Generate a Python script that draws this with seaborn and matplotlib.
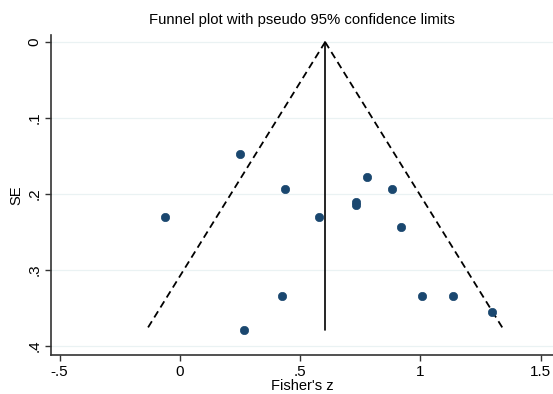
import numpy as np
import pandas as pd
import matplotlib
matplotlib.use("Agg")
import matplotlib.pyplot as plt
import seaborn as sns

# Data
fisher_z = [0.25, 0.4375, -0.06, 0.579, 0.778, 0.882, 0.732, 0.732, 0.921,
            1.007, 1.136, 1.299, 0.267, 0.426]
se = [0.147, 0.193, 0.230, 0.230, 0.178, 0.193, 0.210, 0.214, 0.244,
      0.334, 0.334, 0.355, 0.379, 0.334]
pooled = 0.604
max_se = 0.379
x_ticks = [-0.5, 0, 0.5, 1, 1.5]
x_ticklabels = ["-.5", "0", ".5", "1", "1.5"]
y_ticks = [0, 0.1, 0.2, 0.3, 0.4]
y_ticklabels = ["0", ".1", ".2", ".3", ".4"]

sns.set_theme(style="white", rc={"text.color": "black",
                                 "axes.labelcolor": "black",
                                 "xtick.color": "black",
                                 "ytick.color": "black"})
plt.rcParams["font.family"] = ["Liberation Sans", "DejaVu Sans"]

df = pd.DataFrame({"z": fisher_z, "se": se})
funnel_se = [0.0, max_se]
left = pd.DataFrame({"z": [pooled, pooled - 1.96 * max_se], "se": funnel_se})
right = pd.DataFrame({"z": [pooled, pooled + 1.96 * max_se], "se": funnel_se})
center = pd.DataFrame({"z": [pooled, pooled], "se": funnel_se})

fig = plt.figure(figsize=(5.53, 3.94), dpi=100)
ax = fig.add_axes([0.092, 0.099, 0.908, 0.812])

for y in y_ticks:
    ax.axhline(y, color="#eaf2f3", lw=0.9, zorder=0)

sns.lineplot(data=left, x="z", y="se", ax=ax, color="black", lw=1.3,
             linestyle=(0, (4, 2.5)), sort=False, estimator=None)
sns.lineplot(data=right, x="z", y="se", ax=ax, color="black", lw=1.3,
             linestyle=(0, (4, 2.5)), sort=False, estimator=None)
sns.lineplot(data=center, x="z", y="se", ax=ax, color="black", lw=1.2,
             sort=False, estimator=None)
sns.scatterplot(data=df, x="z", y="se", ax=ax, color="#1a476f", s=36,
                edgecolor="#1a476f", linewidth=0.5, zorder=5)

ax.set_xlim(-0.536, 1.551)
ax.set_ylim(0.4118, -0.0092)
ax.set_xticks(x_ticks)
ax.set_xticklabels(x_ticklabels, fontsize=11)
ax.set_yticks(y_ticks)
ax.set_yticklabels(y_ticklabels, fontsize=11, rotation=90, va="center")
ax.tick_params(axis="both", direction="out", length=4, width=1,
               color="#333333", labelcolor="black", bottom=True, left=True,
               pad=3)

for s in ["top", "right"]:
    ax.spines[s].set_visible(False)
for s in ["left", "bottom"]:
    ax.spines[s].set_color("#333333")
    ax.spines[s].set_linewidth(1.2)

ax.set_xlabel("Fisher's z", fontsize=10.5, labelpad=0, color="black")
ax.set_ylabel("SE", fontsize=10.5, labelpad=3, color="black")
ax.set_title("Funnel plot with pseudo 95% confidence limits", fontsize=10.7,
             pad=8, color="black")

fig.savefig("out.png", dpi=100)
